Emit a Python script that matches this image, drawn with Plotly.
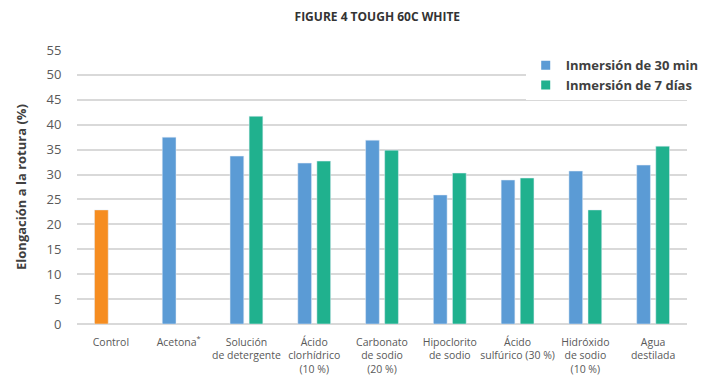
import plotly.graph_objects as go

categories = ["Control", "Acetona<sup>*</sup>", "Solución<br>de detergente",
              "Ácido<br>clorhídrico<br>(10 %)", "Carbonato<br>de sodio<br>(20 %)",
              "Hipoclorito<br>de sodio", "Ácido<br>sulfúrico (30 %)",
              "Hidróxido<br>de sodio<br>(10 %)", "Agua<br>destilada"]
control_vals = [22.9, None, None, None, None, None, None, None, None]
min30_vals = [None, 37.5, 33.7, 32.3, 36.9, 25.9, 28.9, 30.7, 31.9]
days7_vals = [None, None, 41.7, 32.7, 34.9, 30.3, 29.3, 22.9, 35.7]
series_names = ["Inmersión de 30 min", "Inmersión de 7 días"]
y_ticks = list(range(0, 60, 5))

BLUE = "#5B9BD5"
GREEN = "#20B18E"
ORANGE = "#F68D20"
TXT = "#595959"
GRID = "#D9D9D9"

fig = go.Figure()
fig.add_trace(go.Bar(x=categories, y=control_vals, marker_color=ORANGE,
                     offsetgroup="a", showlegend=False, name="Control"))
fig.add_trace(go.Bar(x=categories, y=min30_vals, marker_color=BLUE,
                     offsetgroup="a", showlegend=False, name=series_names[0]))
fig.add_trace(go.Bar(x=categories, y=days7_vals, marker_color=GREEN,
                     offsetgroup="b", showlegend=False, name=series_names[1]))
# legend proxies (small square swatches)
for nm, col in zip(series_names, [BLUE, GREEN]):
    fig.add_trace(go.Scatter(x=[None], y=[None], mode="markers",
                             name="<b>" + nm + "</b>",
                             marker=dict(symbol="square", size=9, color=col)))

fig.update_layout(
    width=716, height=379,
    margin=dict(l=77, r=15, t=50, b=55),
    paper_bgcolor="white", plot_bgcolor="white",
    barmode="group", bargap=0.437, bargroupgap=0.28,
    font=dict(family="Open Sans", color=TXT),
    title=dict(text="<b>FIGURE 4 TOUGH 60C WHITE</b>", x=0.527, xanchor="center",
               y=0.955, yanchor="middle",
               font=dict(size=12, color="#333333", family="Open Sans")),
    legend=dict(x=0.7356, y=0.999, xanchor="left", yanchor="top",
                bgcolor="white", font=dict(size=13, color="#404040"),
                itemwidth=30, tracegroupgap=0, traceorder="normal"),
    showlegend=True,
)
fig.update_xaxes(type="category", showgrid=False, showline=False, ticks="",
                 ticklabelstandoff=10, automargin=False,
                 tickfont=dict(size=10.5, color=TXT))
fig.update_yaxes(range=[0, 55], tickvals=y_ticks, showgrid=True, gridcolor=GRID,
                 gridwidth=1.5, zeroline=True, zerolinecolor=GRID, zerolinewidth=2,
                 showline=False, tickfont=dict(size=13, color=TXT),
                 ticks="outside", ticklen=12, tickcolor="white", automargin=False,
                 title=dict(text="<b>Elongación a la rotura (%)</b>",
                            font=dict(size=13, color="#404040"), standoff=16))

fig.write_html("out.html")
